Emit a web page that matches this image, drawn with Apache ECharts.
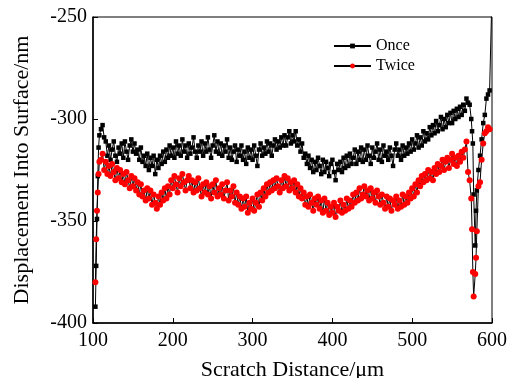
<!DOCTYPE html>
<html>
<head>
<meta charset="utf-8">
<script src="https://cdn.jsdelivr.net/npm/echarts@6/dist/echarts.min.js"></script>
<style>
html,body{margin:0;padding:0;background:#fff;}
#c{width:515px;height:378px;}
</style>
</head>
<body>
<div id="c"></div>
<script>
var xs = [
103,104,105,106,107,108,
110,112,114,116,118,120,122,124,126,128,
130,132,134,136,138,140,142,144,146,148,
150,152,154,156,158,160,162,164,166,168,
170,172,174,176,178,180,182,184,186,188,
190,192,194,196,198,200,202,204,206,208,
210,212,214,216,218,220,222,224,226,228,
230,232,234,236,238,240,242,244,246,248,
250,252,254,256,258,260,262,264,266,268,
270,272,274,276,278,280,282,284,286,288,
290,292,294,296,298,300,302,304,306,308,
310,312,314,316,318,320,322,324,326,328,
330,332,334,336,338,340,342,344,346,348,
350,352,354,356,358,360,362,364,366,368,
370,372,374,376,378,380,382,384,386,388,
390,392,394,396,398,400,402,404,406,408,
410,412,414,416,418,420,422,424,426,428,
430,432,434,436,438,440,442,444,446,448,
450,452,454,456,458,460,462,464,466,468,
470,472,474,476,478,480,482,484,486,488,
490,492,494,496,498,500,502,504,506,508,
510,512,514,516,518,520,522,524,526,528,
530,532,534,536,538,540,542,544,546,548,
550,552,554,556,558,560,562,564,566,568,
570,
572,574,575,576,577,579,580,581,583,585,587,589,591,593,595,597,600
];
var once = [
-392,-372,-349,-328,-314,-308,
-305,-303,-309,-311,-318, -313,-320,-315,-311,-318,
-321,-314,-317,-312,-319, -311,-316,-320,-313,-310,
-316,-312,-317,-315,-320, -314,-321,-318,-323,-317,
-325,-319,-323,-318,-327, -320,-324,-318,-322,-316,
-321,-315,-319,-313,-318, -314,-319,-311,-317,-313,
-318,-310,-316,-313,-319, -312,-317,-314,-309,-316,
-319,-313,-316,-311,-318, -312,-316,-309,-315,-319,
-313,-308,-316,-311,-317, -312,-318,-313,-316,-310,
-319,-314,-320,-316,-313, -321,-315,-318,-313,-320,
-316,-322,-314,-319,-315, -320,-313,-318,-323,-315,
-312,-318,-314,-317,-311, -316,-312,-318,-313,-310,
-315,-311,-314,-309,-313, -308,-313,-309,-306,-312,
-308,-311,-306,-313,-310, -316,-312,-319,-317,-322,
-318,-324,-320,-326,-321, -325,-319,-323,-327,-320,
-326,-321,-324,-328,-322, -320,-326,-330,-322,-325,
-321,-326,-319,-324,-318, -323,-317,-322,-319,-315,
-322,-316,-320,-314,-321, -315,-320,-313,-318,-322,
-314,-319,-316,-312,-320, -315,-321,-313,-318,-316,
-320,-314,-318,-323,-315, -312,-318,-315,-320,-313,
-318,-314,-317,-312,-316, -310,-315,-312,-308,-314,
-309,-313,-306,-311,-307, -310,-304,-308,-303,-307,
-301,-306,-303,-299,-305, -300,-304,-298,-302,-297,
-302,-296,-300,-295,-299, -294,-298,-293,-296,-290,
-292,
-293,-300,-306,-312,-337,-362,-345,-335,-325,-318,-310,-302,-298,-290,-288,-286,-238
];
var twice = [
-380,-359,-345,-336,-327,-321,
-320,-317,-325,-321,-327, -323,-328,-322,-326,-330,
-324,-329,-325,-331,-327, -332,-326,-330,-334,-328,
-333,-329,-335,-331,-337, -332,-338,-335,-340,-334,
-339,-335,-342,-337,-341, -344,-338,-342,-336,-340,
-334,-339,-333,-337,-330, -334,-328,-332,-336,-329,
-333,-327,-331,-335,-330, -328,-334,-330,-336,-331,
-335,-329,-334,-338,-332, -336,-331,-337,-333,-339,
-332,-336,-330,-338,-334, -337,-332,-339,-335,-331,
-340,-335,-338,-333,-341, -336,-342,-338,-344,-339,
-343,-338,-346,-341,-344, -339,-345,-341,-337,-343,
-336,-340,-334,-338,-332, -336,-331,-335,-330,-334,
-329,-333,-336,-330,-334, -328,-333,-329,-335,-331,
-334,-330,-336,-332,-338, -334,-339,-336,-342,-338,
-343,-337,-341,-345,-339, -342,-338,-344,-340,-346,
-339,-345,-341,-347,-343, -346,-341,-348,-343,-345,
-340,-346,-342,-345,-339, -344,-340,-343,-337,-341,
-336,-340,-334,-339,-337, -333,-338,-335,-340,-334,
-339,-336,-341,-335,-338, -342,-337,-341,-344,-338,
-343,-339,-345,-340,-342, -338,-344,-340,-343,-337,
-342,-338,-341,-336,-339, -334,-338,-332,-336,-330,
-333,-328,-331,-327,-330, -325,-329,-326,-330,-324,
-327,-322,-326,-323,-320, -325,-321,-319,-324,-320,
-317,-322,-319,-323,-318, -321,-316,-319,-315,-311,
-326,
-330,-339,-354,-375,-387,-376,-368,-355,-333,-331,-320,-312,-307,-306,-304,-305,null
];
var seriesNames = ['Once', 'Twice'];
var xTicks = [100, 600, 100];
var yTicks = [-400, -250, 50];

function pairs(ys){
  var out = [];
  for (var i = 0; i < xs.length; i++) out.push([xs[i], ys[i]]);
  return out;
}

var font = 'Liberation Serif, Times New Roman, serif';
var chart = echarts.init(document.getElementById('c'), null, {renderer: 'canvas'});
chart.setOption({
  animation: false,
  backgroundColor: '#fff',
  grid: {left: 93, right: 23, top: 17, bottom: 55, show: true, borderColor: '#000', borderWidth: 1,
         containLabel: false, outerBoundsMode: 'none'},
  legend: {
    data: seriesNames,
    orient: 'vertical',
    left: 328, top: 33,
    itemWidth: 37, itemHeight: 6, itemGap: 4,
    textStyle: {fontFamily: font, fontSize: 16, color: '#000'}
  },
  xAxis: {
    type: 'value', min: xTicks[0], max: xTicks[1], interval: xTicks[2],
    name: 'Scratch Distance/μm', nameLocation: 'middle', nameGap: 36,
    nameTextStyle: {fontFamily: font, fontSize: 22, color: '#000'},
    axisLine: {show: true, lineStyle: {color: '#000', width: 1.5}},
    axisTick: {show: true, inside: true, length: 5, lineStyle: {color: '#000', width: 1}},
    axisLabel: {fontFamily: font, fontSize: 20, color: '#000', margin: 8},
    splitLine: {show: false}
  },
  yAxis: {
    type: 'value', min: yTicks[0], max: yTicks[1], interval: yTicks[2],
    name: 'Displacement Into Surface/nm', nameLocation: 'middle', nameGap: 60,
    nameTextStyle: {fontFamily: font, fontSize: 22, color: '#000'},
    axisLine: {show: true, lineStyle: {color: '#000', width: 1.5}},
    axisTick: {show: true, inside: true, length: 5, lineStyle: {color: '#000', width: 1}},
    axisLabel: {fontFamily: font, fontSize: 20, color: '#000', margin: 6},
    splitLine: {show: false}
  },
  series: [
    {
      name: seriesNames[0], type: 'line', data: pairs(once),
      symbol: 'rect', symbolSize: 4.5, showAllSymbol: true,
      lineStyle: {color: '#000', width: 1},
      itemStyle: {color: '#000'},
      clip: true
    },
    {
      name: seriesNames[1], type: 'line', data: pairs(twice),
      symbol: 'circle', symbolSize: 6, showAllSymbol: true,
      lineStyle: {color: '#000', width: 1},
      itemStyle: {color: '#ff0000'},
      clip: true, connectNulls: false
    }
  ]
});
</script>
</body>
</html>
